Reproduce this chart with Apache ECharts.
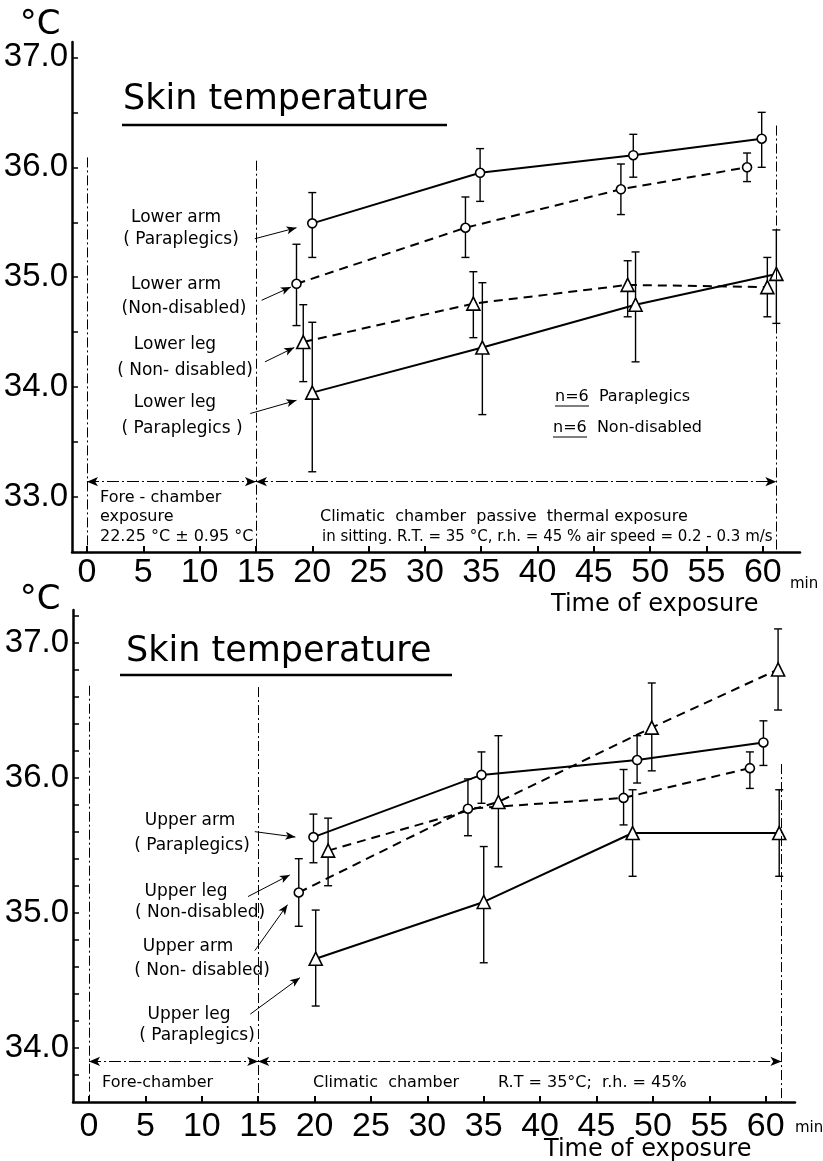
<!DOCTYPE html>
<html><head><meta charset="utf-8">
<script src="https://cdn.jsdelivr.net/npm/echarts@6/dist/echarts.min.js"></script>
<style>html,body{margin:0;padding:0;background:#fff}#c{width:823px;height:1161px}</style>
</head><body><div id="c"></div>
<script>
// ---------- data ----------
const xTickValues = [0,5,10,15,20,25,30,35,40,45,50,55,60];
const topYLabels = [33,34,35,36,37];
const topYTicks = [33,33.5,34,34.5,35,35.5,36,36.5,37];
const botYLabels = [34,35,36,37];
const botYTicks = [33.8,34,34.2,34.4,34.6,34.8,35,35.2,35.4,35.6,35.8,36,36.2,36.4,36.6,36.8,37,37.2];

// [time, mean, low, high]  — top panel (lower arm / lower leg)
const lowerArmPara   = [[20,35.49,35.18,35.77],[34.9,35.95,35.69,36.17],[48.5,36.11,35.91,36.30],[59.9,36.26,36.00,36.50]];
const lowerArmNonDis = [[18.6,34.94,34.56,35.30],[33.6,35.45,35.18,35.73],[47.4,35.80,35.57,36.03],[58.6,36.00,35.87,36.13]];
const lowerLegNonDis = [[19.2,34.41,34.05,34.75],[34.3,34.76,34.45,35.05],[48.0,34.93,34.64,35.15],[60.4,34.91,34.64,35.18]];
const lowerLegPara   = [[20,33.95,33.23,34.59],[35.1,34.36,33.75,34.95],[48.7,34.75,34.23,35.23],[61.2,35.03,34.58,35.43]];

// bottom panel (upper arm / upper leg)
const upperArmPara   = [[19.9,35.56,35.37,35.73],[34.8,36.02,35.81,36.19],[48.6,36.13,35.96,36.31],[59.8,36.26,36.09,36.42]];
const upperLegNonDis = [[21.2,35.46,35.20,35.70],[36.3,35.82,35.34,36.31],[49.9,36.37,36.05,36.70],[61.1,36.80,36.50,37.10]];
const upperArmNonDis = [[18.6,35.15,34.90,35.40],[33.6,35.77,35.57,35.99],[47.4,35.85,35.65,36.06],[58.6,36.07,35.92,36.19]];
const upperLegPara   = [[20.1,34.66,34.31,35.02],[35.0,35.08,34.63,35.49],[48.2,35.59,35.27,35.91],[61.2,35.59,35.27,35.91]];

// phase boundaries [time, top of line], arrow level, pointer arrows [x1,y1,x2,y2]
const topPhaseLines = [[0,36.09],[15,36.06],[61.2,36.38]];
const topArrowY = 33.14;
const topPointers = [[14.9,35.35,18.6,35.45],[15.5,34.79,18.1,34.91],[15.8,34.23,18.4,34.36],[14.5,33.76,18.6,33.88]];
const botPhaseLines = [[0,36.68],[15,36.67],[61.4,36.1]];
const botArrowY = 33.90;
const botPointers = [[14.7,35.60,18.3,35.56],[14.1,35.12,17.8,35.28],[14.7,34.72,17.6,35.06],[14.3,34.25,18.7,34.52]];

// ---------- chart ----------
const chart = echarts.init(document.getElementById('c'), null, {renderer:'canvas'});
const NUMFONT = 'Liberation Sans, Arial, sans-serif';
const TXTFONT = 'DejaVu Sans, sans-serif';

function xAxis(gi, min, max, margin){
  return {type:'value', gridIndex:gi, min, max,
    axisLine:{show:true, onZero:false, lineStyle:{color:'#000', width:2.5}},
    axisTick:{show:true, inside:true, length:6, customValues:xTickValues, lineStyle:{color:'#000', width:2}},
    axisLabel:{customValues:xTickValues, fontSize:34, fontFamily:NUMFONT, color:'#000', margin},
    splitLine:{show:false}};
}
function yAxis(gi, min, max, labels, ticks){
  return {type:'value', gridIndex:gi, min, max,
    axisLine:{show:true, onZero:false, lineStyle:{color:'#000', width:2.5}},
    axisTick:{show:true, inside:true, length:6, customValues:ticks, lineStyle:{color:'#000', width:1.5}},
    axisLabel:{customValues:labels, fontSize:33, fontFamily:NUMFONT, color:'#000', margin:4,
      formatter:v=>v.toFixed(1)},
    splitLine:{show:false}};
}
function errSeries(data, gi){
  return {type:'custom', xAxisIndex:gi, yAxisIndex:gi, z:2, silent:true, animation:false,
    data:data.map(d=>[d[0],d[2],d[3]]), encode:{x:0, y:[1,2]},
    renderItem:(params, api)=>{
      const x=api.value(0), lo=api.value(1), hi=api.value(2);
      const a=api.coord([x,hi]), b=api.coord([x,lo]);
      const w=4, st={stroke:'#000', lineWidth:1.4};
      return {type:'group', children:[
        {type:'line', shape:{x1:a[0],y1:a[1],x2:b[0],y2:b[1]}, style:st},
        {type:'line', shape:{x1:a[0]-w,y1:a[1],x2:a[0]+w,y2:a[1]}, style:st},
        {type:'line', shape:{x1:b[0]-w,y1:b[1],x2:b[0]+w,y2:b[1]}, style:st}]};
    }};
}
function lineSeries(name, data, gi, dashed, sym){
  return {type:'line', name, xAxisIndex:gi, yAxisIndex:gi, z:3, animation:false, silent:true,
    data:data.map(d=>[d[0],d[1]]), symbol:sym, symbolSize:sym==='triangle'?13:9, showAllSymbol:true,
    itemStyle:{color:'#fff', borderColor:'#000', borderWidth:1.6},
    lineStyle:{color:'#000', width:2, type:dashed?[9,6]:'solid'}};
}
function annoSeries(gi, phase, arrowY, pointers, yMin){
  const out = [];
  out.push({type:'line', xAxisIndex:gi, yAxisIndex:gi, data:[], animation:false, silent:true,
    markLine:{silent:true, animation:false, symbol:['none','none'], label:{show:false},
      lineStyle:{color:'#000', width:1, type:[10,3,2,3]},
      data:phase.map(p=>[{coord:[p[0],p[1]]},{coord:[p[0],yMin]}])}});
  out.push({type:'line', xAxisIndex:gi, yAxisIndex:gi, data:[], animation:false, silent:true,
    markLine:{silent:true, animation:false, symbol:['arrow','arrow'], symbolSize:[7,11], label:{show:false},
      lineStyle:{color:'#000', width:1.2, type:[12,3,2,3]},
      data:[[{coord:[phase[0][0],arrowY]},{coord:[phase[1][0],arrowY]}],
            [{coord:[phase[1][0],arrowY]},{coord:[phase[2][0],arrowY]}]]}});
  out.push({type:'line', xAxisIndex:gi, yAxisIndex:gi, data:[], animation:false, silent:true,
    markLine:{silent:true, animation:false, symbol:['none','arrow'], symbolSize:[6,10], label:{show:false},
      lineStyle:{color:'#000', width:1, type:'solid'},
      data:pointers.map(p=>[{coord:[p[0],p[1]]},{coord:[p[2],p[3]]}])}});
  return out;
}
const T = (text, x, y, size, align, font) => ({type:'text', x, y, silent:true, z:10,
  style:{text, fontSize:size, fontFamily:font||TXTFONT, fill:'#000', align:align||'left', verticalAlign:'middle'}});
const L = (x1,y1,x2,y2,w) => ({type:'line', silent:true, z:10, shape:{x1,y1,x2,y2}, style:{stroke:'#000', lineWidth:w||2}});

const option = {
  backgroundColor:'#fff',
  animation:false,
  grid:[{left:72, top:42, width:728, height:510, containLabel:false, outerBoundsMode:'none'},
        {left:73, top:610, width:722, height:492, containLabel:false, outerBoundsMode:'none'}],
  xAxis:[xAxis(0,-1.33,63.3,4), xAxis(1,-1.42,62.6,8)],
  yAxis:[yAxis(0,32.5,37.14,topYLabels,topYTicks), yAxis(1,33.6,37.24,botYLabels,botYTicks)],
  series:[
    errSeries(lowerArmPara,0), errSeries(lowerArmNonDis,0), errSeries(lowerLegNonDis,0), errSeries(lowerLegPara,0),
    lineSeries('Lower arm (Paraplegics)',lowerArmPara,0,false,'circle'),
    lineSeries('Lower arm (Non-disabled)',lowerArmNonDis,0,true,'circle'),
    lineSeries('Lower leg (Non-disabled)',lowerLegNonDis,0,true,'triangle'),
    lineSeries('Lower leg (Paraplegics)',lowerLegPara,0,false,'triangle'),
    ...annoSeries(0, topPhaseLines, topArrowY, topPointers, 32.5),
    errSeries(upperArmPara,1), errSeries(upperLegNonDis,1), errSeries(upperArmNonDis,1), errSeries(upperLegPara,1),
    lineSeries('Upper arm (Paraplegics)',upperArmPara,1,false,'circle'),
    lineSeries('Upper leg (Non-disabled)',upperLegNonDis,1,true,'triangle'),
    lineSeries('Upper arm (Non-disabled)',upperArmNonDis,1,true,'circle'),
    lineSeries('Upper leg (Paraplegics)',upperLegPara,1,false,'triangle'),
    ...annoSeries(1, botPhaseLines, botArrowY, botPointers, 33.6)
  ],
  graphic:[
    // top panel
    T('°C',40,25,34,'center'),
    T('Skin temperature',123,100,35),
    L(122,125,447,125,2.5),
    T('Lower arm',176,218,17,'center'), T('( Paraplegics)',181,240,17,'center'),
    T('Lower arm',176,285,17,'center'), T('(Non-disabled)',184,309,17,'center'),
    T('Lower leg',175,345,17,'center'), T('( Non- disabled)',185,371,17,'center'),
    T('Lower leg',175,403,17,'center'), T('( Paraplegics )',182,429,17,'center'),
    T('n=6  Paraplegics',555,397,16), L(555,406,589,406,1.2),
    T('n=6  Non-disabled',553,428,16), L(553,437,587,437,1.2),
    T('Fore - chamber',100,498,16), T('exposure',100,517,16), T('22.25 °C ± 0.95 °C',100,537,16),
    T('Climatic  chamber  passive  thermal exposure',320,517,16),
    T('in sitting. R.T. = 35 °C, r.h. = 45 % air speed = 0.2 - 0.3 m/s',322,537,15),
    T('min',790,584,15),
    T('Time of exposure',551,605,24),
    // bottom panel
    T('°C',40,600,34,'center'),
    T('Skin temperature',126,652,35),
    L(120,675,452,675,2.5),
    T('Upper arm',190,821,17,'center'), T('( Paraplegics)',192,846,17,'center'),
    T('Upper leg',186,892,17,'center'), T('( Non-disabled)',200,913,17,'center'),
    T('Upper arm',188,947,17,'center'), T('( Non- disabled)',202,971,17,'center'),
    T('Upper leg',189,1015,17,'center'), T('( Paraplegics)',197,1036,17,'center'),
    T('Fore-chamber',102,1083,16),
    T('Climatic  chamber',313,1083,16), T('R.T = 35°C;  r.h. = 45%',498,1083,16),
    T('min',795,1128,15),
    T('Time of exposure',544,1150,24)
  ]
};
chart.setOption(option);
</script></body></html>
